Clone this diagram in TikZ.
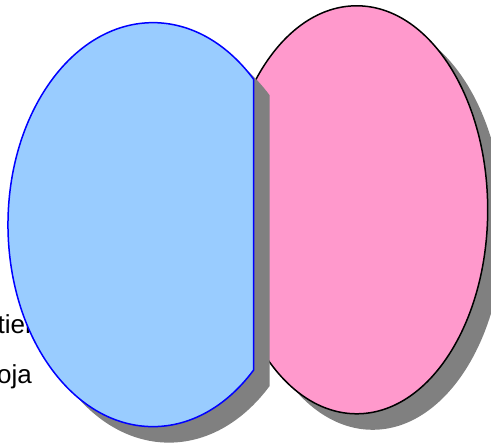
\documentclass[tikz,border=0pt]{standalone}
\usepackage{fontspec}
\setmainfont{Liberation Sans}
\definecolor{bluefill}{HTML}{99CCFF}
\definecolor{pinkfill}{HTML}{FF99CC}
\definecolor{shadowgray}{HTML}{808080}
\tikzset{
  shadowshape/.style={fill=shadowgray, draw=none},
  lbl/.style={anchor=base west, inner sep=0pt, font=\fontsize{26}{30}\selectfont},
}
\begin{document}
\begin{tikzpicture}[x=1pt,y=1pt]
\useasboundingbox (0,0) rectangle (491,446);
\clip (0,0) rectangle (491,446);
% pink ellipse with shadow
\fill[shadowgray] (372.7,220.2) ellipse [x radius=131, y radius=204];
\draw[fill=pinkfill, draw=black, line width=1.5pt] (356.7,236.2) ellipse [x radius=131, y radius=204];
% labels
\node[lbl] (t1) at (-2.5,112) {tier};
\node[lbl] (t2) at (-3,62) {oja};
% blue shape with shadow
\fill[shadowgray] (269.5,350.9) arc [start angle=46.1, end angle=313.9, x radius=145, y radius=202] -- cycle;
\draw[fill=bluefill, draw=blue, line width=1.5pt] (253.5,366.9) arc [start angle=46.1, end angle=313.9, x radius=145, y radius=202] -- cycle;
\end{tikzpicture}
\end{document}
